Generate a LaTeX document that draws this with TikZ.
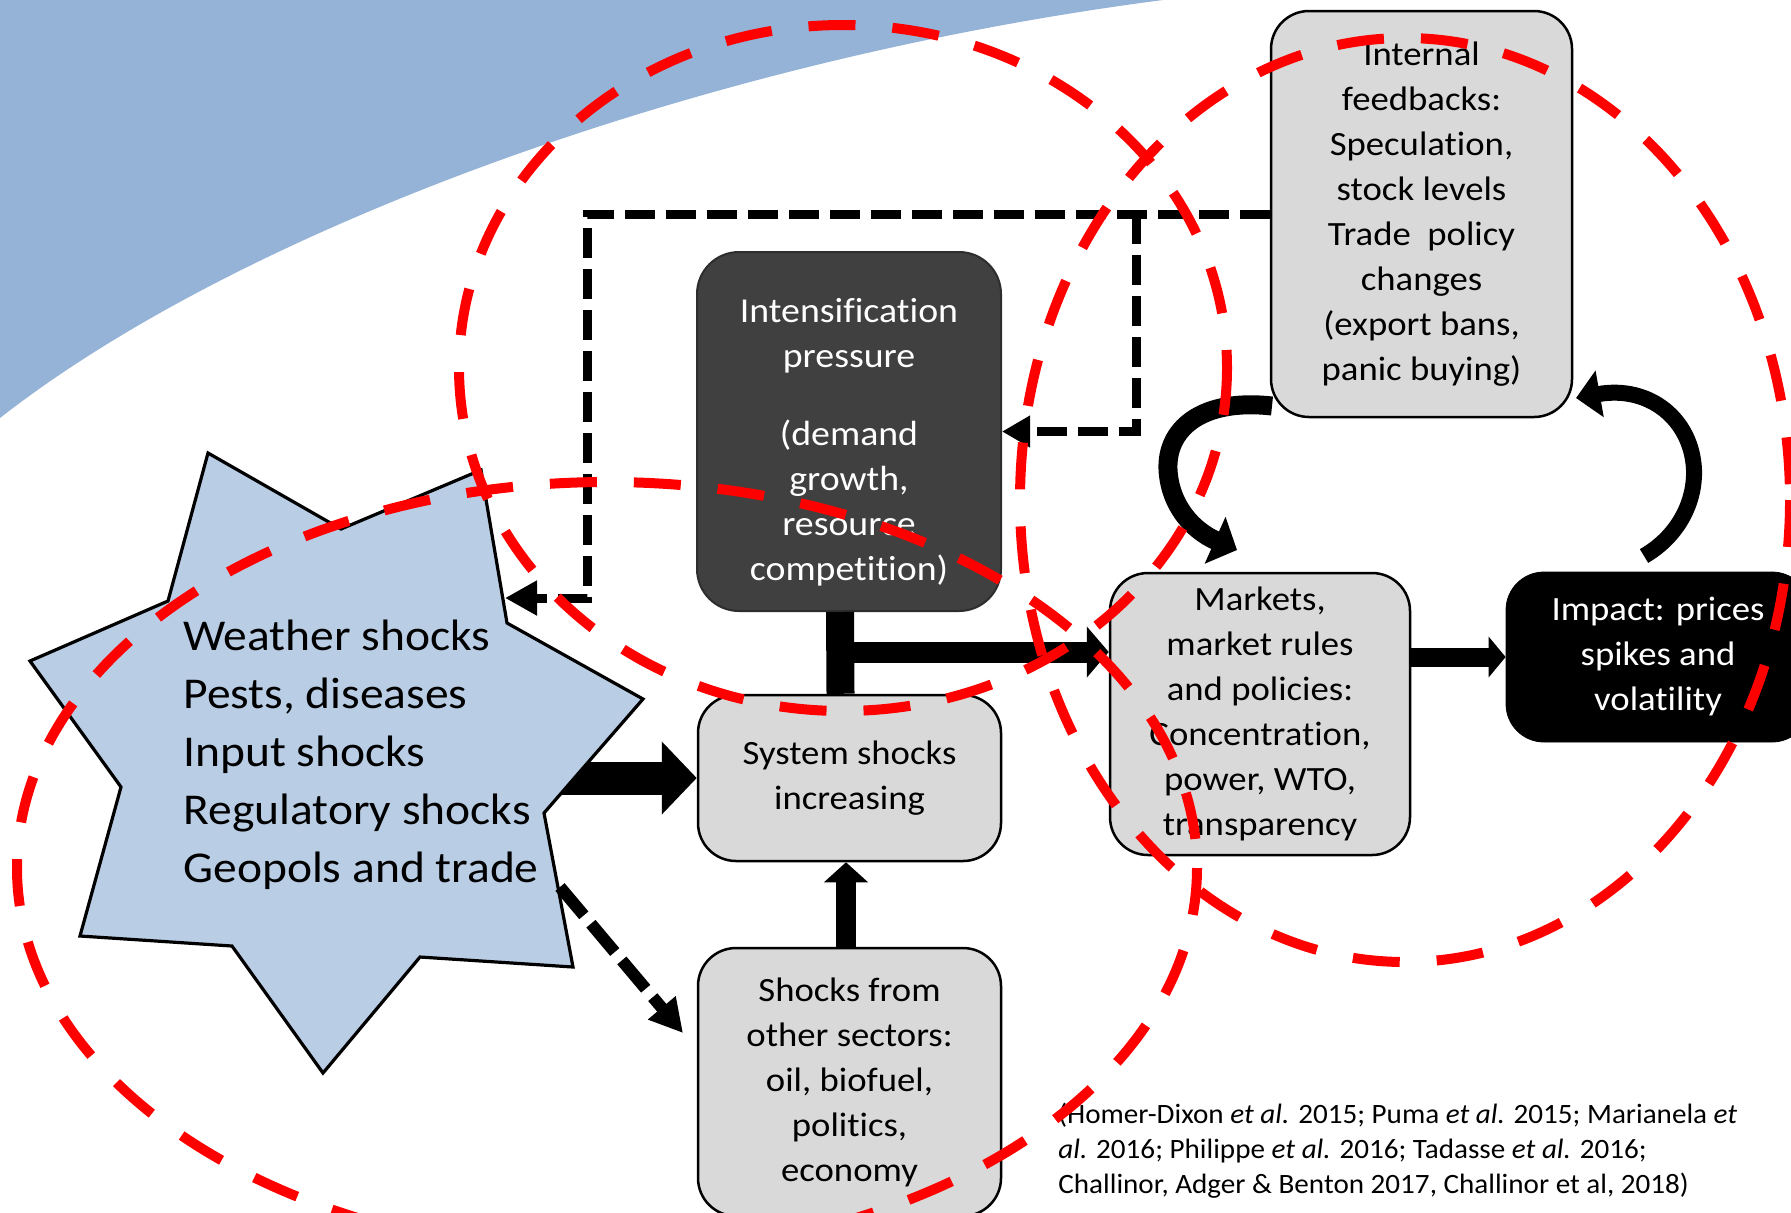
\documentclass[tikz,border=0pt]{standalone}
\usepackage{fontspec}
\setmainfont{Carlito}[FakeStretch=1.08,Ligatures=NoCommon]
\newfontfamily\citefont{Carlito}[FakeStretch=1.04,Ligatures=NoCommon]
\usetikzlibrary{arrows.meta,calc}
\definecolor{bgblue}{RGB}{149,179,215}
\definecolor{starblue}{RGB}{185,205,229}
\definecolor{boxgray}{RGB}{217,217,217}
\definecolor{darkfill}{RGB}{64,64,64}
\definecolor{pptred}{RGB}{255,0,0}
\begin{document}
\begin{tikzpicture}[x=0.5pt,y=-0.5pt,
  boxfont/.style={font=\fontsize{17}{22.5}\selectfont},
  graybox/.style={boxfont,draw=black,line width=1.25pt,fill=boxgray,rounded corners=19pt,align=center,inner sep=2pt},
  darkbox/.style={draw=darkfill!70!black,line width=1pt,fill=darkfill,rounded corners=21pt,inner sep=0pt},
  blackbox/.style={boxfont,draw=black,fill=black,text=white,rounded corners=19pt,align=center,inner sep=2pt},
  reddash/.style={draw=pptred,line width=5pt,dash pattern=on 23.5pt off 18.5pt},
  blkdash/.style={draw=black,line width=4.5pt,dash pattern=on 15pt off 5.5pt}
]
\fill[white] (0,0) rectangle (1791,1212);
\useasboundingbox (0,0) rectangle (1791,1212);

% blue background
\fill[bgblue] (0,0) -- (1163,0) .. controls (700,60) and (240,230) .. (0,418) -- cycle;

% boxes
\node[graybox,minimum width=150.5pt,minimum height=203pt] (internal) at (1421.5,214)
  {Internal\\feedbacks:\\Speculation,\\stock levels\\Trade\ \ policy\\changes\\(export bans,\\panic buying)};
\node[graybox,minimum width=150pt,minimum height=141pt] (markets) at (1260,714)
  {Markets,\\market rules\\and policies:\\Concentration,\\power, WTO,\\transparency};
\node[blackbox,minimum width=152pt,minimum height=85pt] (impact) at (1658,657)
  {Impact: prices\\spikes and\\volatility};
\node[graybox,minimum width=151.5pt,minimum height=83pt] (sys) at (849.5,778)
  {System shocks\\increasing};
\node[graybox,minimum width=151.5pt,minimum height=134pt] (shocks) at (849.5,1082)
  {Shocks from\\other sectors:\\oil, biofuel,\\politics,\\economy};
\node[darkbox,minimum width=152pt,minimum height=179.5pt] (dark) at (849,431.5) {};
\node[font=\fontsize{17.5}{22.5}\selectfont,text=white,align=center,inner sep=0pt] (darktext) at (849,442)
  {Intensification\\pressure\\[16.5pt](demand\\growth,\\resource\\competition)};

% thick T connector
\draw[line width=14pt] ([xshift=-4.5pt]dark.south) -- ([xshift=-4.5pt]sys.north);
\coordinate (tj) at (840,652);
\draw[line width=10.5pt,-{Triangle[length=11pt,width=25pt]}] (tj) -- (tj -| markets.west);

% shocks -> system
\draw[line width=10pt,-{Triangle[length=10pt,width=21.5pt]}] ([xshift=-1.75pt]shocks.north) -- ([xshift=-1.75pt]sys.south);

% markets -> impact
\draw[line width=9.5pt,-{Triangle[length=8.5pt,width=20pt]}] (markets.east |- impact.west) -- (impact.west);

% star -> system (starts under the star)
\coordinate (starA) at (560,778);
\draw[line width=16.5pt,-{Triangle[length=17.5pt,width=35.5pt]}] (starA) -- (sys.west);

% star
\draw[fill=starblue,line width=1.6pt,line join=miter]
  (208,453) -- (341,529) -- (481,470) -- (507,623) -- (643,699) -- (544,813) -- (573,967)
  -- (420,957) -- (323,1073) -- (232,946) -- (80,936) -- (121,787) -- (30,661) -- (168,601) -- cycle;
\node[font=\fontsize{22}{29}\selectfont,align=left,anchor=north west,inner sep=0pt] (startext) at (183,620)
  {Weather shocks\\Pests, diseases\\Input shocks\\Regulatory shocks\\Geopols and trade};

% dashed feedback connectors
\coordinate (jL) at (587,214);
\coordinate (starC) at (505,598);
\draw[blkdash,-{Triangle[length=16pt,width=16.5pt]}] (internal.west) -- (jL) |- (starC);
\coordinate (jR) at (1136,214);
\draw[blkdash,-{Triangle[length=14pt,width=15pt]}] (jR) |- (dark.east);

% star -> shocks from other sectors (dashed)
\coordinate (starB) at (560,887);
\coordinate (shkT) at (683,1033);
\draw[line width=6pt,dash pattern=on 18.5pt off 5.5pt,-{Triangle[length=16.5pt,width=17pt]}] (starB) -- (shkT);

% curved arrows
\coordinate (cA) at (1272,406);
\coordinate (cAt) at (1237,550);
\draw[line width=9.5pt,-{Triangle[length=12pt,width=25pt]}]
  (cA) .. controls (1200,398) and (1166,430) .. (1168,470) .. controls (1170,505) and (1192,530) .. (cAt);
\coordinate (cB) at (1644,556);
\coordinate (cBt) at (1576,398);
\draw[line width=8pt,-{Triangle[length=12pt,width=23pt]}]
  (cB) .. controls (1680,535) and (1695,500) .. (1694,470) .. controls (1692,420) and (1650,385) .. (cBt);

% citation
\node[font=\citefont\fontsize{14}{17.5}\selectfont,align=left,anchor=north west,inner sep=0pt] (cite) at (1058,1103)
  {(Homer-Dixon \textit{et al.} 2015; Puma \textit{et al.} 2015; Marianela \textit{et}\\
   \textit{al.} 2016; Philippe \textit{et al.} 2016; Tadasse \textit{et al.} 2016;\\
   Challinor, Adger \& Benton 2017, Challinor et al, 2018)};

% red dashed ellipses
\draw[reddash] (843,368) ellipse [x radius=384, y radius=343];
\draw[reddash] (607,868) ellipse [x radius=590, y radius=386];
\draw[reddash] (1405,500) ellipse [x radius=385, y radius=462];
\end{tikzpicture}
\end{document}
